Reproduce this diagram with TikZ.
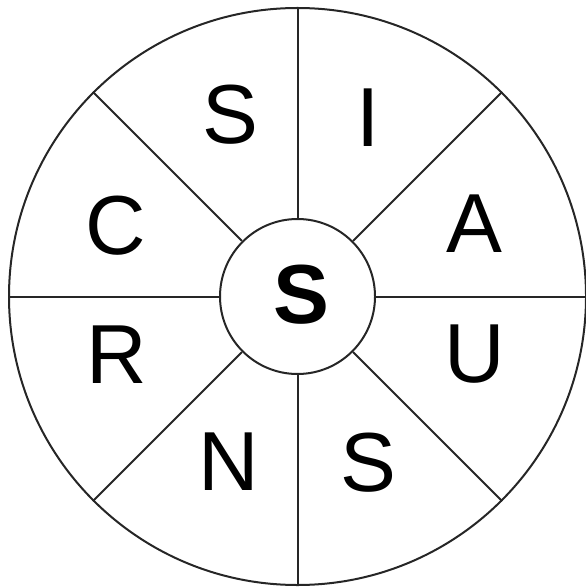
\documentclass[tikz,border=0pt]{standalone}
\usepackage{fontspec}
\setmainfont{Liberation Sans}
\usetikzlibrary{calc}
\begin{document}
\begin{tikzpicture}[x=0.5pt,y=-0.5pt,
  ring/.style={circle,draw=black!85,line width=1pt,inner sep=0pt},
  letter/.style={inner sep=0pt,font=\fontsize{41.9}{48}\selectfont}]
\useasboundingbox (0,0) rectangle (585,587);
% wheel
\coordinate (M) at (297.5,296.5);
\node[ring,minimum size=288.5pt] (outer) at (M) {};
\node[ring,minimum size=77.5pt] (inner) at (M) {};
\foreach \a in {0,45,...,315}{\draw[black!85,line width=1pt] (inner.\a)--(outer.\a);}
\node[letter,font=\fontsize{41.9}{48}\selectfont\bfseries] (mid) at (301,295) {S};
% letters round the wheel
\foreach \p/\t/\n in {{(230,115)}/S/s1,{(368,118)}/I/i,{(474,224)}/A/a,{(475,354)}/U/u,{(368,463)}/S/s2,{(229,462)}/N/n,{(117,355)}/R/r,{(116,226)}/C/c}{\node[letter] (\n) at \p {\t};}
\end{tikzpicture}
\end{document}
